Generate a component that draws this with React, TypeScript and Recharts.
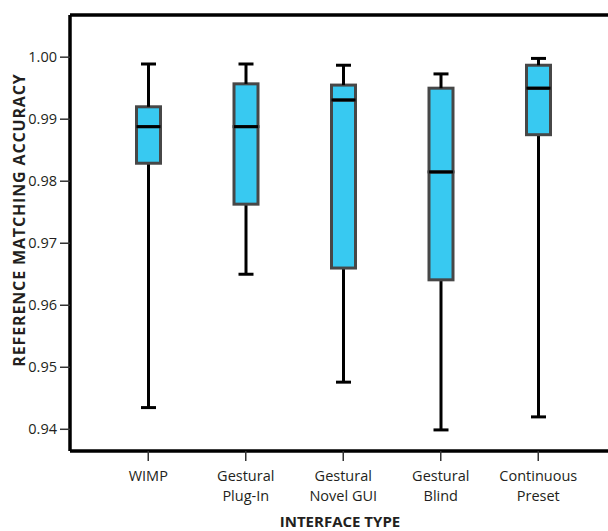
import { ComposedChart, Bar, XAxis, YAxis, ReferenceLine } from "recharts";

// interface types (line breaks as in the figure)
const categories = [
  "WIMP",
  "Gestural\nPlug-In",
  "Gestural\nNovel GUI",
  "Gestural\nBlind",
  "Continuous\nPreset",
];

// box plot stats
const mins = [0.9435, 0.965, 0.9476, 0.9399, 0.942];
const q1s = [0.9829, 0.9763, 0.966, 0.9641, 0.9875];
const medians = [0.9888, 0.9888, 0.9931, 0.9815, 0.995];
const q3s = [0.992, 0.9957, 0.9955, 0.995, 0.9987];
const maxs = [0.9989, 0.9989, 0.9987, 0.9973, 0.9998];

const yTicks = [0.94, 0.95, 0.96, 0.97, 0.98, 0.99, 1.0];
const yDomain = [0.9365, 1.0068];

const FONT = "'Open Sans', sans-serif";
const INK = "#231f20";
const BOX_FILL = "#38c9f1";
const BOX_EDGE = "#474747";

// stacked segments: invisible base up to min, then whisker / box / box / whisker
const data = categories.map((name, i) => ({
  name,
  base: mins[i],
  lowWhisker: q1s[i] - mins[i],
  lowBox: medians[i] - q1s[i],
  highBox: q3s[i] - medians[i],
  highWhisker: maxs[i] - q3s[i],
}));

const Empty = () => <g />;

const LowWhisker = (p: any) => {
  const cx = p.x + p.width / 2;
  const bottom = p.y + p.height;
  return (
    <g>
      <line x1={cx} x2={cx} y1={p.y} y2={bottom} stroke="#000" strokeWidth={3} />
      <line x1={cx - 7.5} x2={cx + 7.5} y1={bottom} y2={bottom} stroke="#000" strokeWidth={3} />
    </g>
  );
};

const HighWhisker = (p: any) => {
  const cx = p.x + p.width / 2;
  return (
    <g>
      <line x1={cx} x2={cx} y1={p.y} y2={p.y + p.height} stroke="#000" strokeWidth={3} />
      <line x1={cx - 7.5} x2={cx + 7.5} y1={p.y} y2={p.y} stroke="#000" strokeWidth={3} />
    </g>
  );
};

const LowBox = (p: any) => (
  <rect x={p.x} y={p.y} width={p.width} height={p.height} fill={BOX_FILL} stroke={BOX_EDGE} strokeWidth={3} />
);

// upper half of the box, median line drawn on its lower edge
const HighBox = (p: any) => (
  <g>
    <rect x={p.x} y={p.y} width={p.width} height={p.height} fill={BOX_FILL} stroke={BOX_EDGE} strokeWidth={3} />
    <line x1={p.x} x2={p.x + p.width} y1={p.y + p.height} y2={p.y + p.height} stroke="#000" strokeWidth={3} />
  </g>
);

const CategoryTick = (props: any) => {
  const { x, y, payload } = props;
  const lines = String(payload.value).split("\n");
  return (
    <g transform={`translate(${x},${y})`}>
      <text textAnchor="middle" fill={INK} fontSize={14.5} fontFamily={FONT}>
        {lines.map((l, i) => (
          <tspan key={i} x={0} dy={20}>
            {l}
          </tspan>
        ))}
      </text>
    </g>
  );
};

export default function App() {
  return (
    <div
      style={{
        position: "absolute",
        left: 0,
        top: 0,
        width: 608,
        height: 531,
        overflow: "hidden",
        background: "#fff",
      }}
    >
      <ComposedChart
        width={640}
        height={531}
        data={data}
        margin={{ top: 15, right: 23.5, bottom: 0, left: 10 }}
      >
        <XAxis
          dataKey="name"
          height={80}
          padding={{ left: 29.5, right: 29.5 }}
          tick={<CategoryTick />}
          tickSize={10}
          tickMargin={0}
          tickLine={{ stroke: "#333", strokeWidth: 1.5 }}
          axisLine={{ stroke: "#000", strokeWidth: 3.5 }}
          interval={0}
          label={() => (
            <text
              x={340}
              y={527}
              textAnchor="middle"
              fontFamily={FONT}
              fontWeight={700}
              fontSize={15}
              fill={INK}
            >
              INTERFACE TYPE
            </text>
          )}
        />
        <YAxis
          width={60}
          domain={yDomain}
          allowDataOverflow
          ticks={yTicks}
          tickFormatter={(v: number) => v.toFixed(2)}
          tick={{ fontSize: 14.5, fill: INK, fontFamily: FONT }}
          tickSize={10}
          tickMargin={3}
          tickLine={{ stroke: "#333", strokeWidth: 1.5 }}
          axisLine={{ stroke: "#000", strokeWidth: 3.5 }}
          label={() => (
            <text
              x={18.5}
              y={220}
              transform="rotate(-90 18.5 220)"
              textAnchor="middle"
              dominantBaseline="central"
              fontFamily={FONT}
              fontWeight={700}
              fontSize={16}
              letterSpacing={0.85}
              fill={INK}
            >
              REFERENCE MATCHING ACCURACY
            </text>
          )}
        />
        {/* top edge of the frame */}
        <ReferenceLine y={yDomain[1]} stroke="#000" strokeWidth={3.5} />
        <Bar dataKey="base" stackId="box" barSize={24} shape={<Empty />} isAnimationActive={false} />
        <Bar dataKey="lowWhisker" stackId="box" barSize={24} shape={<LowWhisker />} isAnimationActive={false} />
        <Bar dataKey="lowBox" stackId="box" barSize={24} shape={<LowBox />} isAnimationActive={false} />
        <Bar dataKey="highBox" stackId="box" barSize={24} shape={<HighBox />} isAnimationActive={false} />
        <Bar dataKey="highWhisker" stackId="box" barSize={24} shape={<HighWhisker />} isAnimationActive={false} />
      </ComposedChart>
    </div>
  );
}
